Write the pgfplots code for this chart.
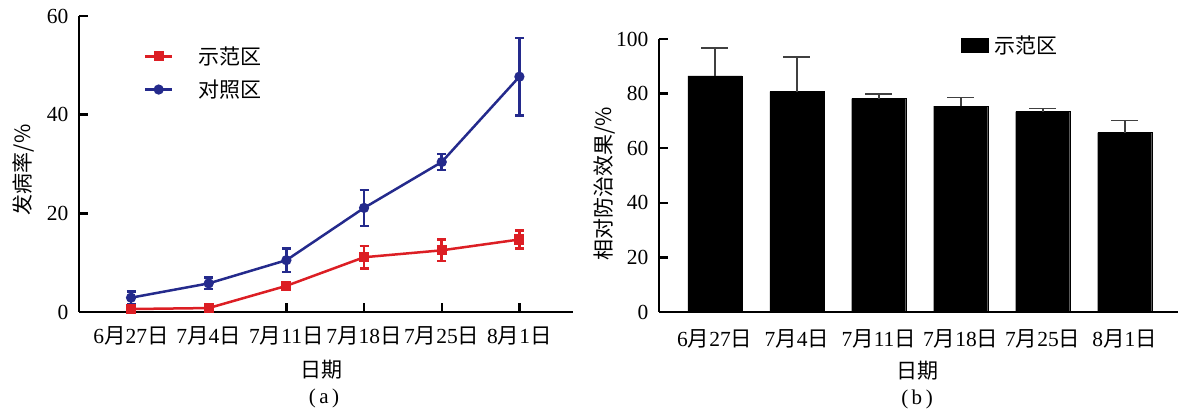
\documentclass[border=0pt]{standalone}
\usepackage{pgfplots}
\pgfplotsset{compat=1.18}
\usepackage{pgfplotstable}
\usepackage{fontspec}
\setmainfont{Liberation Serif}
\newfontfamily\cjk{Noto Sans CJK SC}
\definecolor{myred}{RGB}{220,30,36}
\definecolor{myblue}{RGB}{36,42,140}
\newcommand\yue{{\cjk 月}}
\newcommand\ri{{\cjk 日}}
\pgfplotstableread{
x y e
0 0.6 0.5
1 0.8 0.3
2 5.3 0.5
3 11.1 2.3
4 12.5 2.2
5 14.7 1.8
}\demo
\pgfplotstableread{
x y e
0 2.9 1.25
1 5.8 1.15
2 10.5 2.4
3 21.1 3.65
4 30.4 1.6
5 47.7 7.85
}\ctrl
\pgfplotstableread{
x y e
0 86.5 10.1
1 80.7 12.8
2 78.2 1.7
3 75.4 3.1
4 73.4 1.1
5 65.7 4.4
}\eff
\begin{document}
\begin{tikzpicture}
\path[use as bounding box] (0,0) rectangle (1178pt,412pt);
\pgfplotsset{
 common/.style={
  scale only axis,
  axis x line=bottom, axis y line=left,
  axis line style={-, line width=2.6pt, black},
  tick style={line width=2.4pt, black},
  major tick length=9pt,
  tick align=inside,
  /pgf/number format/assume math mode=true,
  tick label style={font=\fontsize{21.5}{24}\selectfont},
  xtick={0,...,5},
  xticklabels={{6\yue27\ri},{7\yue4\ri},{7\yue11\ri},{7\yue18\ri},{7\yue25\ri},{8\yue1\ri}},
  yticklabel style={xshift=-7pt},
  label style={font=\fontsize{21}{24}\selectfont\cjk},
  legend style={font=\fontsize{21}{24}\selectfont\cjk, draw=none, fill=none},
  clip=false,
 }
}
\begin{axis}[common, at={(79pt,100pt)}, anchor=south west,
  width=494pt, height=296pt,
  xmin=-0.67, xmax=5.69, ymin=0, ymax=60, ytick={0,20,40,60},
  xticklabel style={yshift=-11pt},
  xlabel={日期}, xlabel style={at={(axis description cs:0.49,-0.196)}, anchor=center},
  ylabel={发病率/\%}, ylabel style={at={(axis description cs:-0.112,0.48)}, anchor=center},
  legend style={at={(axis description cs:0.125,0.91)}, anchor=north west, row sep=10pt,
    nodes={inner sep=2pt}},
  legend cell align=left,
  legend image code/.code={\draw[#1, mark repeat=2, mark phase=2] plot coordinates {(0pt,0pt) (13.5pt,0pt) (27pt,0pt)};},
]
\addplot[myred, line width=2.5pt, mark=square*, mark size=3.8pt,
  error bars/.cd, y dir=both, y explicit,
  error bar style={line width=2.5pt, myred},
  error mark options={rotate=90, mark size=4.5pt, line width=2.5pt, myred}]
  table[x=x, y=y, y error=e] {\demo};
\addlegendentry{\hspace{23pt}示范区}
\addplot[myblue, line width=2.5pt, mark=*, mark size=3.8pt,
  error bars/.cd, y dir=both, y explicit,
  error bar style={line width=2.5pt, myblue},
  error mark options={rotate=90, mark size=4.5pt, line width=2.5pt, myblue}]
  table[x=x, y=y, y error=e] {\ctrl};
\addlegendentry{\hspace{23pt}对照区}
\end{axis}
\begin{axis}[common, at={(659pt,100pt)}, anchor=south west,
  width=519pt, height=273pt,
  xmin=-0.68, xmax=5.65, ymin=0, ymax=100, ytick={0,20,...,100},
  xtick style={draw=none},
  xticklabel style={yshift=-5pt},
  ybar, bar width=54pt,
  xlabel={日期}, xlabel style={at={(axis description cs:0.499,-0.216)}, anchor=center},
  ylabel={相对防治效果/\%}, ylabel style={at={(axis description cs:-0.104,0.47)}, anchor=center},
  legend style={at={(axis description cs:0.575,0.978)}, anchor=west, nodes={inner sep=2pt}},
  legend image code/.code={\fill[black] (0pt,-7pt) rectangle (27pt,7pt);},
]
\addplot[fill=black, draw=black,
  error bars/.cd, y dir=plus, y explicit,
  error bar style={line width=1.6pt, black!75},
  error mark options={rotate=90, mark size=13.5pt, line width=1.6pt, black!75}]
  table[x=x, y=y, y error=e] {\eff};
\addlegendentry{\hspace{4pt}示范区}
\end{axis}
\node[font=\fontsize{21}{24}\selectfont] at (324pt,14pt) {(\,a\,)};
\node[font=\fontsize{21}{24}\selectfont] at (917pt,13pt) {(\,b\,)};
\end{tikzpicture}
\end{document}
